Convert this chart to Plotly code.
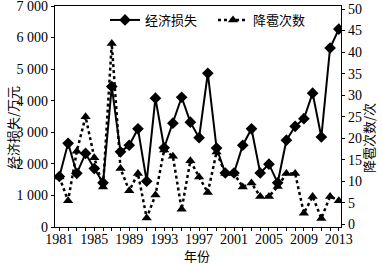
import plotly.graph_objects as go

years = list(range(1981, 2014))
loss = [1600, 2650, 1700, 2330, 1850, 1400, 4450, 2380, 2590, 3110, 1450, 4080, 2510,
        3290, 4110, 3320, 2830, 4870, 2500, 1710, 1710, 2590, 3110, 1710, 1990, 1400,
        2750, 3190, 3430, 4240, 2850, 5670, 6270]
hail = [11, 5.5, 17, 25, 15.5, 8.7, 42, 13, 7.8, 11.8, 1.5, 6.8, 17.3, 15.8, 3.5, 14.8,
        11, 7.4, 16.8, 11.8, 11.8, 8.7, 9.6, 6.5, 6.5, 8.8, 11.8, 11.8, 2.6, 6.5, 1.4,
        6.5, 5.5]
left_ticks = [0, 1000, 2000, 3000, 4000, 5000, 6000, 7000]
left_labels = ["0", "1 000", "2 000", "3 000", "4 000", "5 000", "6 000", "7 000"]
right_ticks = [0, 5, 10, 15, 20, 25, 30, 35, 40, 45, 50]
x_ticks = [1981, 1985, 1989, 1993, 1997, 2001, 2005, 2009, 2013]

NUMFONT = "Liberation Serif"
CJK = "Noto Sans CJK SC"

W, H = 382, 264
L, R, T, B = 55, 41, 6, 37
pw, ph = W - L - R, H - T - B


def px(xp):
    return (xp - L) / pw


def py(yp):
    return (H - B - yp) / ph


fig = go.Figure()
fig.add_trace(go.Scatter(
    x=years, y=loss, name="经济损失", mode="lines+markers",
    line=dict(color="black", width=2),
    marker=dict(symbol="diamond", size=9, color="black"),
    yaxis="y", legend="legend"))
fig.add_trace(go.Scatter(
    x=years, y=hail, name="降雹次数", mode="lines+markers",
    line=dict(color="black", width=2.5, dash="dot"),
    marker=dict(symbol="triangle-up", size=9, color="black"),
    yaxis="y2", legend="legend2"))

axis_common = dict(showgrid=False, zeroline=False, showline=True, linecolor="black",
                   linewidth=1.2, ticks="outside", tickcolor="black", ticklen=3,
                   automargin=False, ticklabeloverflow="allow",
                   tickfont=dict(family=NUMFONT, size=14, color="black"))

leg_common = dict(orientation="h", yanchor="middle", xanchor="left",
                  bgcolor="rgba(0,0,0,0)", font=dict(family=CJK, size=13, color="black"),
                  itemwidth=30)

ann_common = dict(xref="paper", yref="paper", showarrow=False,
                  xanchor="center", yanchor="middle", font=dict(family=CJK, size=13))

fig.update_layout(
    width=W, height=H,
    margin=dict(l=L, r=R, t=T, b=B, pad=0, autoexpand=False),
    paper_bgcolor="white", plot_bgcolor="white",
    font=dict(family=CJK, size=13, color="black"),
    showlegend=True,
    legend=dict(x=px(105), y=py(20), **leg_common),
    legend2=dict(x=px(213), y=py(20), **leg_common),
    xaxis=dict(range=[1980.5, 2013.25], tickvals=x_ticks, mirror=True,
               ticklabelstandoff=-4,
               minor=dict(dtick=1, ticks="outside", ticklen=3, tickcolor="black"),
               **axis_common),
    yaxis=dict(range=[0, 7000], tickvals=left_ticks, ticktext=left_labels,
               **axis_common),
    yaxis2=dict(range=[-0.6, 50.7], tickvals=right_ticks, overlaying="y", side="right",
                **axis_common),
    annotations=[
        dict(text="年份", x=px(197), y=py(255), **ann_common),
        dict(text="经济损失/万元", x=px(12), y=py(128), textangle=-90, **ann_common),
        dict(text="降雹次数/次", x=px(368), y=py(138), textangle=-90, **ann_common),
    ],
)

fig.write_html("out.html", config={"displayModeBar": False},
               post_script="document.body.style.margin='0px';document.body.style.padding='0px';")
